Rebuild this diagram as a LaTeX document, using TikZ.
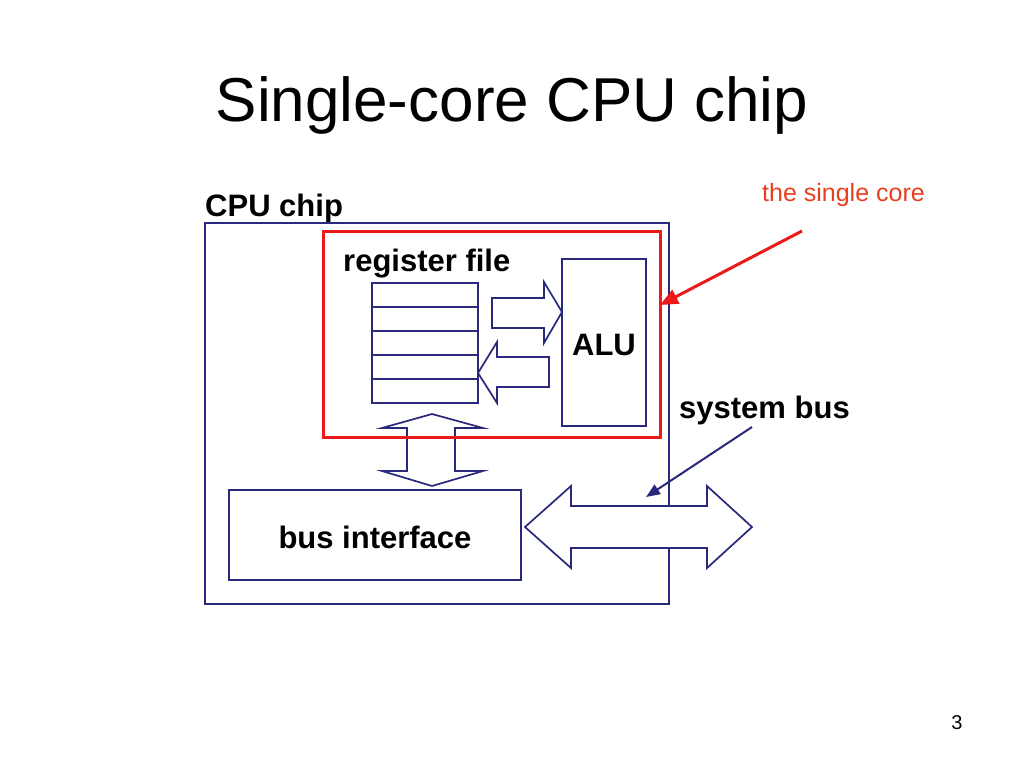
\documentclass[tikz,border=0pt]{standalone}
\usepackage{fontspec}
\setmainfont{Liberation Sans}
\usetikzlibrary{arrows.meta,calc}
\definecolor{chipblue}{RGB}{40,40,125}
\definecolor{corered}{RGB}{235,25,25}
\definecolor{notered}{RGB}{232,62,30}
\begin{document}
\begin{tikzpicture}[x=1pt,y=-1pt,
  box/.style={draw=chipblue, line width=1.7pt, fill=white, inner sep=0pt, outer sep=0pt, anchor=north west},
  blockarrow/.style={draw=chipblue, line width=1.7pt, line join=miter},
  lbl/.style={font=\fontsize{31}{37}\selectfont\bfseries, inner sep=0pt, text=black},
  pointer/.style={line width=2pt, -{Triangle[length=14pt,width=11pt]}}]
\useasboundingbox (0,0) rectangle (1024,768);

% title and page number
\node[font=\fontsize{62}{74}\selectfont, anchor=base, inner sep=0pt] (title) at (512,121) {Single-core CPU chip};
\node[font=\fontsize{20}{24}\selectfont, anchor=base, inner sep=0pt] (page) at (957,729) {3};

% chip outline
\node[lbl, anchor=base west] (chiplbl) at (205,216) {CPU chip};
\node[box, minimum width=464pt, minimum height=381pt] (chip) at (205,223) {};

% register file with its five registers
\node[box, minimum width=106pt, minimum height=120pt] (rf) at (372,283) {};
\foreach \k in {1,...,4}
  \draw[chipblue, line width=1.7pt] ($(rf.north west)!\k/5!(rf.south west)$) -- ($(rf.north east)!\k/5!(rf.south east)$);
\node[lbl, anchor=base west] (rflbl) at (343,271) {register file};

% ALU
\node[box, minimum width=84pt, minimum height=167pt] (alu) at (562,259) {};
\node[lbl, anchor=base] (alulbl) at (604,355) {ALU};

% data paths between register file and ALU
\draw[blockarrow] (492,298) -- (544,298) -- (544,282) -- (alu.west |- 0,312) -- (544,343) -- (544,328) -- (492,328) -- cycle;
\draw[blockarrow] (549,357) -- (497,357) -- (497,342) -- (rf.east |- 0,373) -- (497,403) -- (497,387) -- (549,387) -- cycle;

% path between register file and bus interface
\draw[blockarrow] (432,414) -- (483,428) -- (455,428) -- (455,471) -- (483,471) -- (432,486)
  -- (382,471) -- (407,471) -- (407,428) -- (382,428) -- cycle;

% the core
\node[draw=corered, line width=3pt, inner sep=0pt, outer sep=0pt, anchor=north west,
      minimum width=337pt, minimum height=206pt] (core) at (323,231) {};

% bus interface
\node[box, minimum width=292pt, minimum height=90pt] (bi) at (229,490) {};
\node[lbl, anchor=base] (bilbl) at (375,548) {bus interface};

% system bus
\draw[blockarrow, fill=white] (525,527) -- (571,486) -- (571,506) -- (707,506) -- (707,486) -- (752,527)
  -- (707,568) -- (707,548) -- (571,548) -- (571,568) -- cycle;
\node[lbl, anchor=base west] (sblbl) at (679,418) {system bus};
\coordinate (sbfrom) at (752,427);
\coordinate (sbto) at (646,497);
\draw[pointer, chipblue] (sbfrom) -- (sbto);

% callout for the core
\node[font=\fontsize{25}{30}\selectfont, text=notered, anchor=base west, inner sep=0pt] (corelbl) at (762,201) {the single core};
\coordinate (corefrom) at (802,231);
\draw[pointer, corered, line width=3pt, -{Triangle[length=18pt,width=15pt]}] (corefrom) -- (core.east |- 0,305);
\end{tikzpicture}
\end{document}
